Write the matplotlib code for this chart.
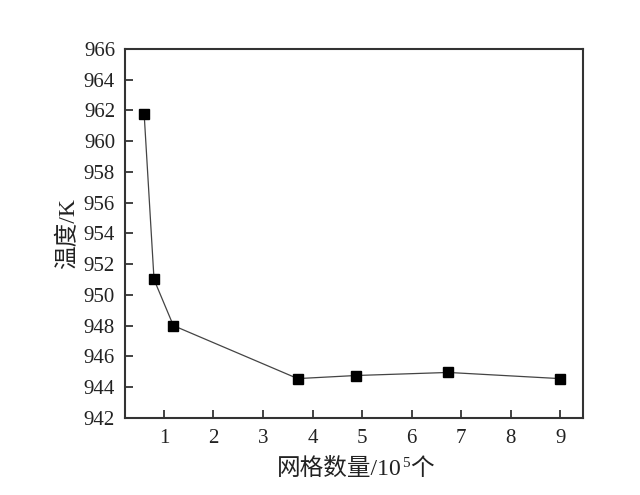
import matplotlib
matplotlib.use("Agg")
import matplotlib.pyplot as plt

plt.rcParams['font.family'] = ['Liberation Serif', 'Noto Sans CJK SC', 'DejaVu Sans']

grid_count = [0.6, 0.8, 1.19, 3.70, 4.87, 6.74, 8.99]
temperature = [961.8, 951.0, 948.0, 944.55, 944.75, 944.95, 944.55]
x_ticks = [1, 2, 3, 4, 5, 6, 7, 8, 9]
y_ticks = list(range(942, 967, 2))
xlabel_main = '网格数量/10'
xlabel_sup = '5'
xlabel_tail = '个'
ylabel = '温度/K'

fig = plt.figure(figsize=(6.4, 4.95), dpi=100)
ax = fig.add_axes([0.195, 0.156, 0.716, 0.745])

ax.plot(grid_count, temperature, color='#444444', linewidth=0.9,
        marker='s', markersize=6.5, markerfacecolor='black', markeredgecolor='black')

ax.set_xlim(0.21, 9.46)
ax.set_ylim(942, 966)
ax.set_xticks(x_ticks)
ax.set_yticks(y_ticks)
ax.tick_params(direction='in', length=6, width=1.2, labelsize=15, pad=8, colors='#222222')
ax.tick_params(axis='y', pad=7)
for s in ax.spines.values():
    s.set_linewidth(1.5)
    s.set_color('#333333')

ax.set_ylabel(ylabel, fontsize=17, color='#222222', labelpad=3)

# composed x label with superscript
fig.canvas.draw()
renderer = fig.canvas.get_renderer()
col = '#222222'
t1 = fig.text(0, 0, xlabel_main, fontsize=17, color=col, va='baseline')
t2 = fig.text(0, 0, xlabel_sup, fontsize=11, color=col, va='baseline')
t3 = fig.text(0, 0, xlabel_tail, fontsize=17, color=col, va='baseline')
W, H = fig.bbox.width, fig.bbox.height
w1 = t1.get_window_extent(renderer).width
w2 = t2.get_window_extent(renderer).width
w3 = t3.get_window_extent(renderer).width
total = w1 + w2 + w3
cx = 355.0
base_y = H - 475.0
x0 = cx - total / 2
t1.set_position((x0 / W, base_y / H))
t2.set_position(((x0 + w1 + 0.5) / W, (base_y + 8) / H))
t3.set_position(((x0 + w1 + w2 + 1) / W, base_y / H))

fig.savefig('out.png', dpi=100, facecolor='white')
